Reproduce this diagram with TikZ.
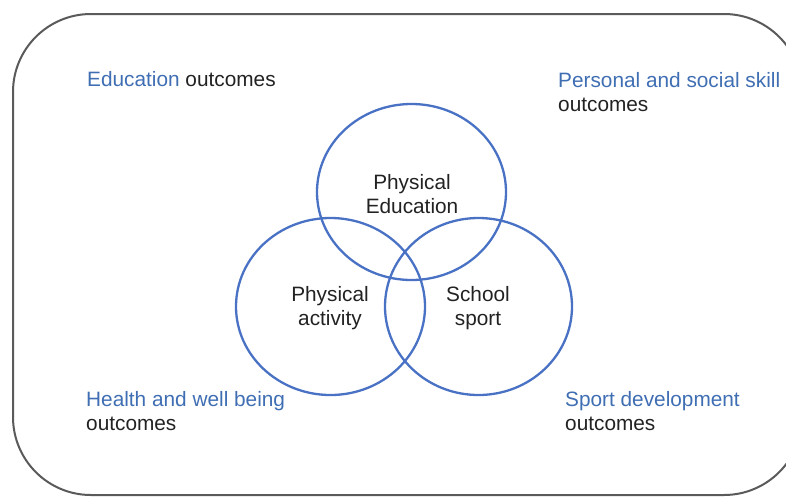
\documentclass[tikz,border=0pt]{standalone}
\usepackage{fontspec}
\setmainfont{Liberation Sans}
\definecolor{tblue}{HTML}{3F6EB3}
\definecolor{cblue}{HTML}{4A72C4}
\definecolor{frame}{HTML}{5A5A5A}
\definecolor{txt}{HTML}{222222}
\begin{document}
\begin{tikzpicture}[x=1pt,y=-1pt,
  lbl/.style={inner sep=0pt, font=\fontsize{20.8}{24.5}\selectfont, text=txt},
  vennc/.style={draw=cblue, line width=2.3pt},
]
\useasboundingbox (0,0) rectangle (786,498);
\draw[frame, line width=2pt, rounded corners=78pt] (13,14) rectangle (802,495);
\draw[vennc] (411.5,192) ellipse [x radius=94.5, y radius=88];
\draw[vennc] (330.5,306.5) ellipse [x radius=94.5, y radius=88.5];
\draw[vennc] (478.5,306.5) ellipse [x radius=93.5, y radius=88.5];
\node[lbl, align=center] (pe) at (412,194) {Physical\\Education};
\node[lbl, align=center] (pa) at (330,308) {Physical\\activity};
\node[lbl, align=center] (ss) at (478,308) {School\\sport};
\node[lbl, anchor=west] (edu) at (87,79) {\textcolor{tblue}{Education} outcomes};
\node[lbl, anchor=west, align=left] (pss) at (558,92) {\textcolor{tblue}{Personal and social skill}\\outcomes};
\node[lbl, anchor=west, align=left] (hwb) at (86,411) {\textcolor{tblue}{Health and well being}\\outcomes};
\node[lbl, anchor=west, align=left] (sd) at (565,411) {\textcolor{tblue}{Sport development}\\outcomes};
\end{tikzpicture}
\end{document}
